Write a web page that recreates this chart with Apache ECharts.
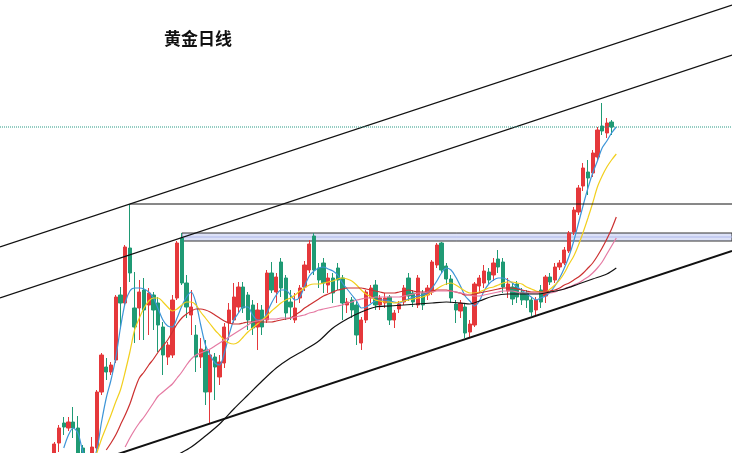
<!DOCTYPE html>
<html><head><meta charset="utf-8">
<script src="https://cdn.jsdelivr.net/npm/echarts@6/dist/echarts.min.js"></script>
<style>html,body{margin:0;padding:0;background:#fff}#c{width:732px;height:453px}</style>
</head><body><div id="c"></div>
<script>
// ---- data (values in chart units; index = trading-day slot) ----
const title = '黄金日线';
const slotCount = 155;
const candleStart = 11;
const candles = [ // [open, close, low, high]
 [-2,9,-5,11],[10,25,1,28],[30,26,18,36],[25,31,22,36],[31,25,15,46],[25,-2,-5,37],[5,-7,-10,8],[-6,-9,-14,-2],[-8,6,-10,16],
 [5,61,2,63],[61,98,58,100],[86,81,73,95],[81,88,78,91],[93,156,90,158],[158,150,125,166],[150,206,148,208],[205,180,171,249],[145,126,110,181],[145,161,113,173],
 [163,143,113,175],[148,160,118,165],[158,143,123,161],[150,128,101,156],[126,98,78,131],[96,108,88,111],[98,153,95,158],[155,210,153,212],[215,170,168,220],[170,146,135,178],
 [138,146,118,163],[118,96,81,128],[96,104,85,115],[103,61,48,113],[61,98,30,103],[96,86,53,100],[76,91,68,98],[90,126,85,130],[130,143,113,150],[133,156,130,170],
 [146,166,140,171],[166,145,140,171],[158,133,123,161],[148,125,118,153],[126,143,103,150],[143,126,118,148],[133,180,130,183],[180,163,160,191],[161,176,150,180],[191,165,156,195],
 [175,140,133,178],[151,146,133,163],[133,145,130,160],[155,165,150,168],[166,188,162,192],[183,209,180,213],[217,183,178,220],[185,173,165,190],[190,170,160,195],[168,175,160,180],
 [175,160,150,180],[185,173,163,190],[175,150,133,178],[148,151,140,155],[153,143,135,156],[148,118,108,153],[110,133,103,136],[133,161,130,163],[155,165,150,168],[168,148,143,173],
 [148,155,143,158],[150,155,145,160],[156,133,128,158],[133,140,125,143],[144,149,140,152],[151,165,148,168],[175,157,152,180],[160,151,146,163],[148,175,145,178],[160,148,143,163],
 [158,165,153,168],[161,191,158,193],[188,208,185,210],[210,183,180,211],[187,174,168,190],[174,155,150,178],[149,143,130,153],[142,150,135,153],[146,120,115,150],[121,129,116,133],
 [128,169,126,171],[167,175,160,178],[170,182,165,188],[181,173,168,185],[178,190,172,195],[194,186,180,203],[191,166,160,195],[162,169,155,175],[166,154,148,170],[169,156,150,172],
 [161,153,148,165],[160,153,145,163],[153,141,137,156],[143,153,138,156],[163,151,145,168],[157,176,150,178],[176,171,168,180],[173,186,170,190],[186,190,183,193],[190,203,188,206],
 [202,220,200,222],[221,243,218,246],[241,265,238,268],[267,285,262,290],[281,275,258,293],[280,300,276,303],[296,323,293,326],[327,322,318,350],[320,330,315,335],[331,326,318,333]
];
const ma5Start = 13;
const ma5 = [5,18,25,20,2,-10,-8,3,31,55,73,95,125,150,162,165,165,164,161,155,144,133,127,126,135,147,156,161,150,128,108,98,90,88,100,118,133,140,146,146,138,133,133,140,150,158,163,163,158,153,156,167,177,182,185,186,184,182,178,170,164,158,152,145,146,149,152,153,153,152,151,150,152,154,156,157,158,160,165,172,180,185,183,176,167,157,152,147,152,162,169,173,175,175,173,170,166,163,159,156,153,155,157,161,167,175,185,197,212,230,248,265,280,292,305,312,320,326];
const ma10Start = 20;
const ma10 = [0,14,26,38,51,63,81,101,123,135,145,152,155,155,151,146,142,144,148,151,151,148,141,135,129,123,118,113,110,109,111,116,121,125,129,133,137,142,146,150,153,155,158,162,165,168,169,169,170,171,172,174,175,174,172,168,163,159,156,153,152,151,151,150,151,152,153,154,155,156,158,161,164,167,169,170,168,165,162,160,160,161,163,165,166,168,170,171,171,170,169,166,164,162,161,161,164,168,173,180,189,197,208,221,235,250,266,277,286,293,299];
const ma20Start = 22;
const ma20 = [3,10,18,28,38,49,63,75,81,88,94,101,107,113,121,129,135,139,142,144,144,143,141,138,135,132,130,129,129,130,131,131,131,131,131,131,132,133,134,135,138,141,145,148,151,154,157,159,161,163,164,165,165,165,165,164,163,162,161,160,160,160,161,162,163,162,161,161,161,162,163,163,163,162,161,160,158,158,159,160,161,162,163,164,165,165,165,164,163,162,161,161,161,161,162,163,165,168,170,173,176,180,185,190,197,205,214,224,236];
const ma30Start = 26;
const ma30 = [6,15,23,30,36,43,50,57,61,65,69,75,81,88,94,98,100,102,104,107,110,113,116,119,122,125,128,131,132,133,134,134,134,135,135,135,136,137,138,140,141,143,144,145,146,147,148,150,151,153,154,155,155,156,156,156,156,156,156,157,158,159,160,160,161,161,162,162,162,162,161,160,159,158,157,157,158,159,160,161,162,162,162,161,160,160,160,160,160,160,160,161,163,164,166,168,170,173,176,180,185,191,199,207,215];
const ma60 = [[37,-2],[40,6],[43,17],[46,29],[49,44],[52,58],[55,72],[58,85],[61,95],[64,103],[67,112],[70,125],[73,134],[76,141],[79,146],[82,147],[85,148],[88,149],[91,150],[94,151],[97,150],[99,149],[101,152],[104,157],[107,159],[110,159],[113,159],[116,161],[119,164],[122,169],[125,174],[128,179],[130,185]];
// drawn trend lines / levels: [[slotFrom, value], [slotTo, value]]
const channelTop = [[-0.5,206],[154.5,448]];
const channelMid = [[-0.5,155],[154.5,398]];
const channelBottom = [[-0.5,-40],[154.5,202]];
const spikeHigh = [[27,249],[154.5,249]];
const resistanceBox = {from: 38, to: 154.5, low: 212, high: 220};
const lastPrice = 326;

// ---- build ----
const cats = [];
for (let i = 0; i < slotCount; i++) cats.push(String(i));
const kData = cats.map((_, i) => {
  const k = i - candleStart;
  return (k >= 0 && k < candles.length) ? candles[k] : '-';
});
const pairs = (start, arr) => arr.map((v, k) => [start + k, v]);

function ma(name, data, color) {
  return {name, type: 'line', xAxisIndex: 1, data, smooth: 0.3, showSymbol: false, silent: true,
    lineStyle: {color, width: 1.2}, z: 5};
}
function straight(data, color, width, type) {
  return {type: 'line', xAxisIndex: 1, data, showSymbol: false, silent: true,
    lineStyle: {color, width, type: type || 'solid'}, z: 6};
}

const chart = echarts.init(document.getElementById('c'), null, {renderer: 'canvas'});
chart.setOption({
  animation: false,
  backgroundColor: '#ffffff',
  title: {text: title, left: 164, top: 30, padding: 0,
    textStyle: {fontFamily: 'Noto Sans CJK SC', fontWeight: 'bold', fontSize: 17, color: '#111'}},
  grid: {left: 0, right: 0, top: 0, bottom: 0},
  xAxis: [
    {type: 'category', data: cats, boundaryGap: true, show: false},
    {type: 'value', min: -0.5, max: slotCount - 0.5, show: false}
  ],
  yAxis: {type: 'value', min: 0, max: 453, show: false},
  series: [
    {type: 'candlestick', xAxisIndex: 0, data: kData, barWidth: '80%', clip: true,
      itemStyle: {color: '#e5383b', color0: '#1f9a74', borderColor: '#e5383b', borderColor0: '#1f9a74', borderWidth: 1}, z: 3},
    ma('MA5', pairs(ma5Start, ma5), '#3d95d8'),
    ma('MA10', pairs(ma10Start, ma10), '#f2cf1d'),
    ma('MA20', pairs(ma20Start, ma20), '#cc3030'),
    ma('MA30', pairs(ma30Start, ma30), '#e57aa3'),
    ma('MA60', ma60, '#111111'),
    straight(channelTop, '#111', 1.3),
    straight(channelMid, '#111', 1.3),
    straight(channelBottom, '#111', 2),
    straight(spikeHigh, '#111', 1),
    Object.assign(straight([[resistanceBox.from, (resistanceBox.low + resistanceBox.high) / 2], [resistanceBox.to, (resistanceBox.low + resistanceBox.high) / 2]], '#aeb8ec', 1), {
      z: 2,
      markArea: {silent: true, itemStyle: {color: '#dce1f7', borderColor: '#333', borderWidth: 1},
        data: [[{xAxis: resistanceBox.from, yAxis: resistanceBox.low}, {xAxis: resistanceBox.to, yAxis: resistanceBox.high}]]}
    }),
    straight([[-0.5, lastPrice], [slotCount - 0.5, lastPrice]], '#2a9a86', 1, 'dotted')
  ]
});
</script></body></html>
